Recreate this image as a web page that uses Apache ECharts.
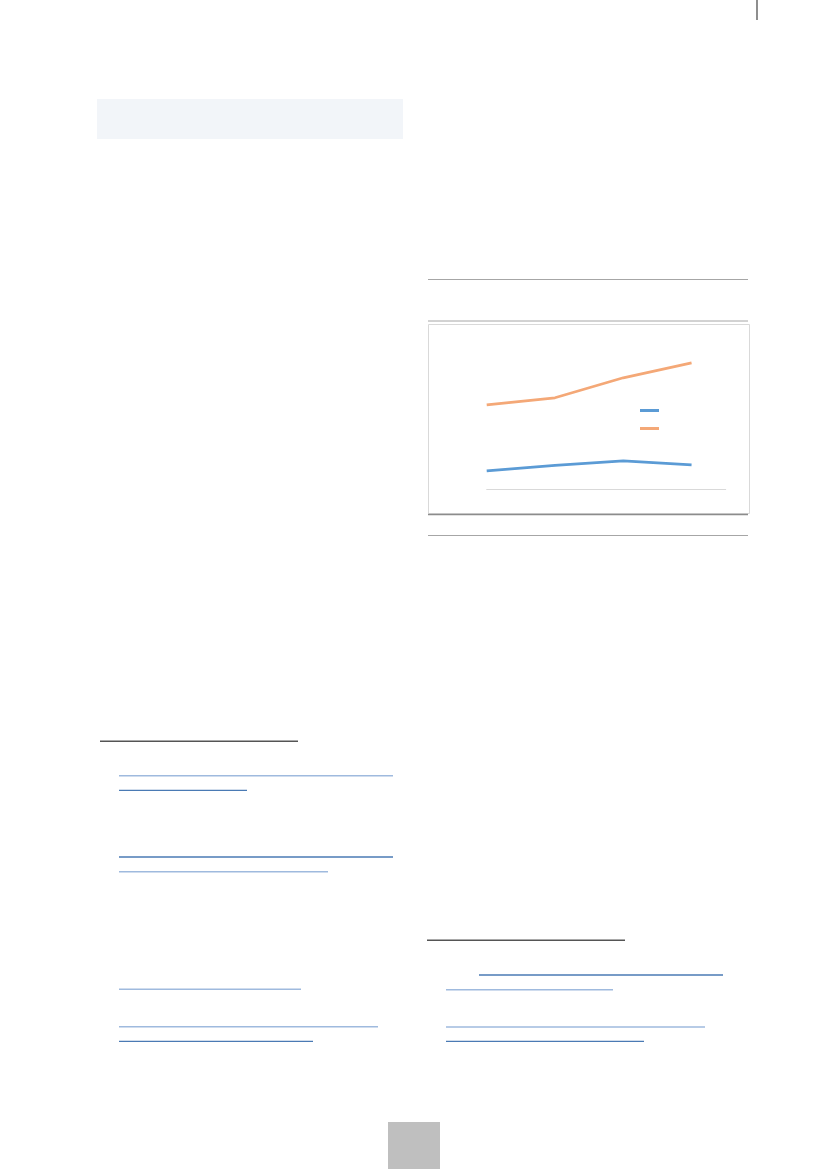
<!DOCTYPE html>
<html>
<head>
<meta charset="utf-8">
<script src="https://cdn.jsdelivr.net/npm/echarts@6/dist/echarts.min.js"></script>
<style>
  html, body { margin: 0; padding: 0; background: #fff; }
  #page { width: 827px; height: 1169px; }
</style>
</head>
<body>
<div id="page"></div>
<script>
// chart data (labels are not shown in the page)
var categories = ['1', '2', '3', '4'];
var seriesNames = ['A', 'B'];
var seriesA = [18, 23.5, 28, 24];
var seriesB = [84, 91, 111, 126];
var yMin = 0;
var yMax = 150;

var blueDark = '#4a7ab4';
var blueLight = '#9fbade';

var toPoints = function (values) {
    return values.map(function (v, i) { return [i, v]; });
};

// underline strokes of the (text-less) page layout
var rule = function (x1, x2, y, color, w) {
    return {
        type: 'line',
        shape: { x1: x1, y1: y, x2: x2, y2: y },
        style: { stroke: color, lineWidth: w || 1.3 }
    };
};

var myChart = echarts.init(document.getElementById('page'), null, { renderer: 'canvas' });
var option = {
    backgroundColor: '#ffffff',
    animation: false,
    grid: {
        left: 486.7,
        right: 101.3,
        top: 338.8,
        bottom: 680.2
    },
    legend: {
        orient: 'vertical',
        left: 635,
        top: 404,
        itemWidth: 19,
        itemHeight: 3,
        itemGap: 15,
        icon: 'rect',
        formatter: function () { return ''; },
        data: seriesNames
    },
    xAxis: {
        type: 'value',
        min: 0,
        max: 3.5,
        axisLine: { show: true, lineStyle: { color: '#d9d9d9', width: 1 } },
        axisTick: { show: false },
        axisLabel: { show: false },
        splitLine: { show: false }
    },
    yAxis: {
        type: 'value',
        min: yMin,
        max: yMax,
        axisLine: { show: false },
        axisTick: { show: false },
        axisLabel: { show: false },
        splitLine: { show: false }
    },
    series: [
        {
            name: seriesNames[0],
            type: 'line',
            symbol: 'none',
            data: toPoints(seriesA),
            lineStyle: { color: '#5b9bd5', width: 2.75 },
            itemStyle: { color: '#5b9bd5' }
        },
        {
            name: seriesNames[1],
            type: 'line',
            symbol: 'none',
            data: toPoints(seriesB),
            lineStyle: { color: '#f4a877', width: 2.75 },
            itemStyle: { color: '#f4a877' }
        }
    ],
    graphic: [
        // top right marker
        { type: 'line', shape: { x1: 757, y1: 0, x2: 757, y2: 20 }, style: { stroke: '#444', lineWidth: 1.2 } },
        // heading band
        { type: 'rect', shape: { x: 97, y: 99, width: 306, height: 40 }, style: { fill: '#f2f5f9' } },
        // chart frame and rules
        rule(428, 748, 279.5, '#a6a6a6', 1),
        rule(428, 748, 321, '#a6a6a6', 1),
        { type: 'rect', z: -1, shape: { x: 428.5, y: 324.5, width: 321, height: 189 }, style: { fill: '#fff', stroke: '#d9d9d9', lineWidth: 1 } },
        rule(428, 748, 514.5, '#8c8c8c', 1.5),
        rule(428, 748, 535.5, '#a6a6a6', 1),
        // left column
        rule(100, 298, 741.3, '#555555', 1.5),
        rule(119, 393, 775.7, blueLight, 1.6),
        rule(119, 247, 790.3, blueDark),
        rule(119, 393, 857, blueDark),
        rule(119, 328, 871.7, blueLight, 1.6),
        rule(119, 301, 989.3, blueLight, 1.6),
        rule(119, 378, 1026.7, blueLight, 1.6),
        rule(119, 313, 1041.3, blueDark),
        // right column
        rule(427, 625, 940.3, '#555555', 1.5),
        rule(479, 723, 975, blueDark),
        rule(446, 613, 989.7, blueLight, 1.6),
        rule(446, 705, 1027, blueLight, 1.6),
        rule(446, 644, 1041.3, blueDark),
        // page number tab
        { type: 'rect', shape: { x: 388, y: 1122, width: 52, height: 47 }, style: { fill: '#bfbfbf' } }
    ]
};
myChart.setOption(option);
window.onresize = function () {
    myChart.resize();
};
</script>
</body>
</html>
